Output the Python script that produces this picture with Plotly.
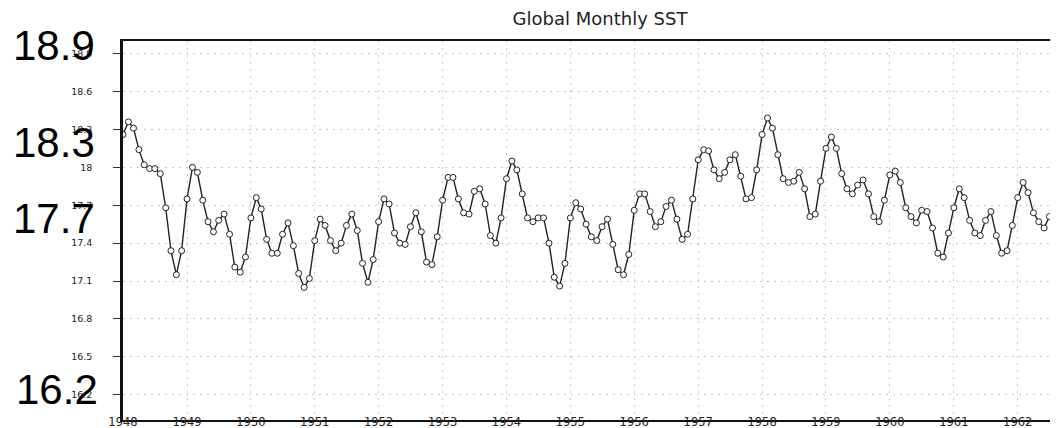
import pandas as pd
import plotly.graph_objects as go

# ---- data ----
start_month = "1948-01-01"
sst = [
    18.26, 18.36, 18.31, 18.14, 18.02, 17.99, 17.99, 17.95, 17.68, 17.34, 17.15, 17.34,  # 1948
    17.75, 18.00, 17.96, 17.74, 17.57, 17.49, 17.58, 17.63, 17.47, 17.21, 17.17, 17.29,  # 1949
    17.60, 17.76, 17.67, 17.43, 17.32, 17.32, 17.47, 17.56, 17.38, 17.16, 17.05, 17.12,  # 1950
    17.42, 17.59, 17.54, 17.42, 17.34, 17.40, 17.54, 17.63, 17.50, 17.24, 17.09, 17.27,  # 1951
    17.57, 17.75, 17.71, 17.48, 17.40, 17.39, 17.53, 17.64, 17.49, 17.25, 17.23, 17.45,  # 1952
    17.74, 17.92, 17.92, 17.75, 17.64, 17.63, 17.81, 17.83, 17.71, 17.46, 17.40, 17.60,  # 1953
    17.91, 18.05, 17.98, 17.79, 17.60, 17.57, 17.60, 17.60, 17.40, 17.13, 17.06, 17.24,  # 1954
    17.60, 17.72, 17.67, 17.55, 17.45, 17.42, 17.53, 17.59, 17.39, 17.19, 17.15, 17.31,  # 1955
    17.66, 17.79, 17.79, 17.65, 17.53, 17.57, 17.69, 17.74, 17.59, 17.43, 17.47, 17.75,  # 1956
    18.06, 18.14, 18.13, 17.98, 17.91, 17.96, 18.06, 18.10, 17.93, 17.75, 17.76, 17.98,  # 1957
    18.26, 18.39, 18.31, 18.10, 17.91, 17.88, 17.89, 17.96, 17.83, 17.61, 17.63, 17.89,  # 1958
    18.15, 18.24, 18.15, 17.95, 17.83, 17.79, 17.86, 17.90, 17.79, 17.61, 17.57, 17.74,  # 1959
    17.94, 17.97, 17.88, 17.68, 17.61, 17.56, 17.66, 17.65, 17.52, 17.32, 17.29, 17.48,  # 1960
    17.68, 17.83, 17.76, 17.58, 17.48, 17.46, 17.58, 17.65, 17.46, 17.32, 17.34, 17.54,  # 1961
    17.76, 17.88, 17.80, 17.64, 17.57, 17.52, 17.61, 17.61, 17.48, 17.27,                # 1962
]
year_ticks = list(range(1948, 1963))
y_tick_vals = [16.2, 16.5, 16.8, 17.1, 17.4, 17.7, 18.0, 18.3, 18.6, 18.9]
y_tick_text = ["16.2", "16.5", "16.8", "17.1", "17.4", "17.7", "18", "18.3", "18.6", "18.9"]
big_labels = ["18.9", "18.3", "17.7", "16.2"]
title_text = "Global Monthly SST"

months = pd.date_range(start_month, periods=len(sst), freq="MS")

fig = go.Figure()
fig.add_trace(go.Scatter(
    x=months, y=sst, mode="lines+markers",
    line=dict(color="#222", width=1.4),
    marker=dict(symbol="circle", size=6, color="white",
                line=dict(color="#222", width=1)),
    showlegend=False,
))

grid_dash = "2px,5px"
fig.update_xaxes(
    type="date",
    range=["1948-01-01", "1962-10-04"],
    tickvals=[pd.Timestamp(f"{y}-01-01") for y in year_ticks],
    ticktext=[str(y) for y in year_ticks],
    showgrid=True, gridcolor="#c8c8c8", griddash=grid_dash, gridwidth=1,
    showline=True, linecolor="#111", linewidth=2, mirror=True,
    ticks="", ticklen=0, ticklabelstandoff=-10,
    tickfont=dict(family="DejaVu Sans", size=11.5, color="#222"),
    zeroline=False, fixedrange=True,
)
fig.update_yaxes(
    range=[16.0, 19.0],
    tickvals=y_tick_vals, ticktext=y_tick_text,
    showgrid=True, gridcolor="#c8c8c8", griddash=grid_dash, gridwidth=1,
    showline=True, linecolor="#111", linewidth=2.5, mirror=False,
    ticks="outside", ticklen=7, tickcolor="#333", tickwidth=1,
    ticklabelstandoff=19,
    tickfont=dict(family="DejaVu Sans", size=9.5, color="#222"),
    zeroline=False, fixedrange=True,
)

# large overlaid value labels (as in the reference)
big_pos = [(3, 38), (3, 134), (3, 210), (6, 381)]
plot_left, plot_top, plot_h, plot_w = 115, 33, 379, 943
for txt, (px, py) in zip(big_labels, big_pos):
    fig.add_annotation(
        text=txt, xref="paper", yref="paper",
        x=(px - plot_left) / plot_w, y=(plot_top + plot_h - py) / plot_h,
        xanchor="left", yanchor="middle", showarrow=False,
        font=dict(family="Liberation Sans", size=42, color="black"),
    )

fig.update_layout(
    width=1058, height=428,
    margin=dict(l=115, r=0, t=33, b=16, autoexpand=False),
    paper_bgcolor="white", plot_bgcolor="white",
    title=dict(text=title_text, x=592 / 1058, xanchor="center",
               y=1 - 11 / 428, yanchor="middle",
               font=dict(family="DejaVu Sans", size=18, color="#222")),
)

fig.write_html("out.html")
